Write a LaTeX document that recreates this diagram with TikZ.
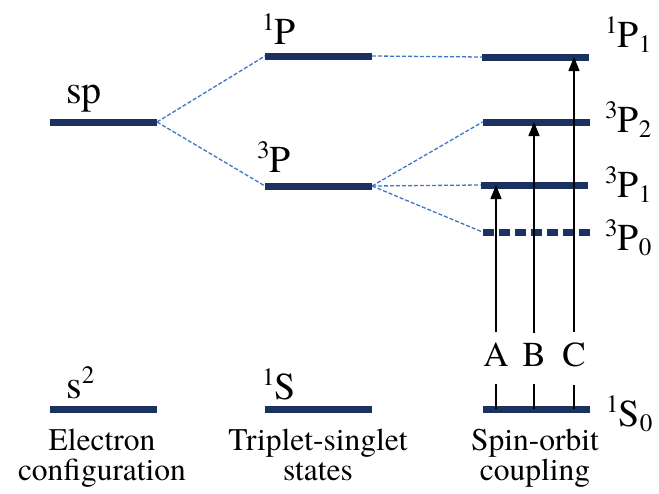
\documentclass[tikz,border=0pt]{standalone}
\usepackage{fontspec}
\setmainfont{TeX Gyre Termes}
\newfontfamily\tnr{TeX Gyre Termes}
\usetikzlibrary{arrows.meta}
\definecolor{barcol}{RGB}{27,50,96}
\definecolor{linkcol}{RGB}{62,118,200}
\newcommand\hi[1]{\raisebox{14pt}{\fontsize{25}{25}\selectfont #1}}
\newcommand\lo[1]{\raisebox{-5pt}{\fontsize{25}{25}\selectfont #1}}
\tikzset{
  bar/.style={minimum width=107pt, minimum height=7pt, inner sep=0pt, outer sep=0pt, fill=barcol, draw=none},
  dbar/.style={minimum width=107pt, minimum height=7pt, inner sep=0pt, outer sep=0pt, draw=none},
  dashbar/.style={draw=barcol, line width=7pt, dash pattern=on 11pt off 5pt},
  link/.style={draw=linkcol, line width=1.3pt, dash pattern=on 4pt off 2pt},
  arr/.style={draw=black, line width=1.4pt, -{Triangle[length=14pt,width=11pt]}},
  tickline/.style={draw=black, line width=1.4pt},
  lab/.style={font=\tnr\fontsize{38}{38}\selectfont, inner sep=0pt, anchor=base west},
  big/.style={font=\tnr\fontsize{40}{40}\selectfont, inner sep=0pt, anchor=base west},
  caption/.style={font=\tnr\fontsize{31.5}{30}\selectfont, inner sep=0pt, align=center, anchor=base},
  letter/.style={font=\tnr\fontsize{35}{35}\selectfont, inner xsep=0pt, inner ysep=10pt, anchor=base}
}
\begin{document}
\begin{tikzpicture}[x=1pt,y=-1pt]
\useasboundingbox (0,0) rectangle (659,493);
% bars
\node[bar] (sp) at (103.5,122) {};
\node[bar] (P1) at (318.5,56) {};
\node[bar] (P3) at (318.5,186) {};
\node[bar] (r11) at (535.5,57) {};
\node[bar] (r32) at (536,122) {};
\node[bar] (r31) at (534,185) {};
\node[dbar] (r30) at (536,232) {};
\draw[dashbar] (r30.west) -- (r30.east);
\node[bar] (s2) at (103,409) {};
\node[bar] (S1) at (318.5,409) {};
\node[bar] (S0) at (536,409) {};
% connectors
\draw[link] (sp.east) -- (P1.west);
\draw[link] (sp.east) -- (P3.west);
\draw[link] (P1.east) -- (r11.west);
\draw[link] (P3.east) -- (r32.west);
\draw[link] (P3.east) -- (r31.west);
\draw[link] (P3.east) -- (r30.west);
% level labels
\node[big] (tsp) at (66,103) {sp};
\node[lab] (tP1) at (262,44) {\hi{1}P};
\node[lab] (tP3) at (257,172) {\hi{3}P};
\node[lab] (tr11) at (605,47) {\hi{1}P\lo{1}};
\node[lab] (tr32) at (605,132) {\hi{3}P\lo{2}};
\node[lab] (tr31) at (605,197) {\hi{3}P\lo{1}};
\node[lab] (tr30) at (605,250) {\hi{3}P\lo{0}};
\node[big] (ts2) at (66,398) {s\raisebox{15pt}{\fontsize{25}{25}\selectfont 2}};
\node[lab] (tS1) at (262,399) {\hi{1}S};
\node[lab] (tS0) at (606,426) {\hi{1}S\lo{0}};
% captions
\node[caption] (c1) at (102,480) {Electron\\configuration};
\node[caption] (c2) at (318,480) {Triplet-singlet\\states};
\node[caption] (c3) at (535,480) {Spin-orbit\\coupling};
% transitions
\node[letter] (A) at (496,366) {A};
\node[letter] (B) at (534,366) {B};
\node[letter] (C) at (574,366) {C};
\draw[arr] (A.north) -- (A |- r31.center);
\draw[arr] (B.north) -- (B |- r32.center);
\draw[arr] (C.north) -- (C |- r11.center);
\draw[tickline, shorten <=8pt] (A.south) -- (A |- S0.center);
\draw[tickline, shorten <=8pt] (B.south) -- (B |- S0.center);
\draw[tickline, shorten <=8pt] (C.south) -- (C |- S0.center);
\end{tikzpicture}
\end{document}
